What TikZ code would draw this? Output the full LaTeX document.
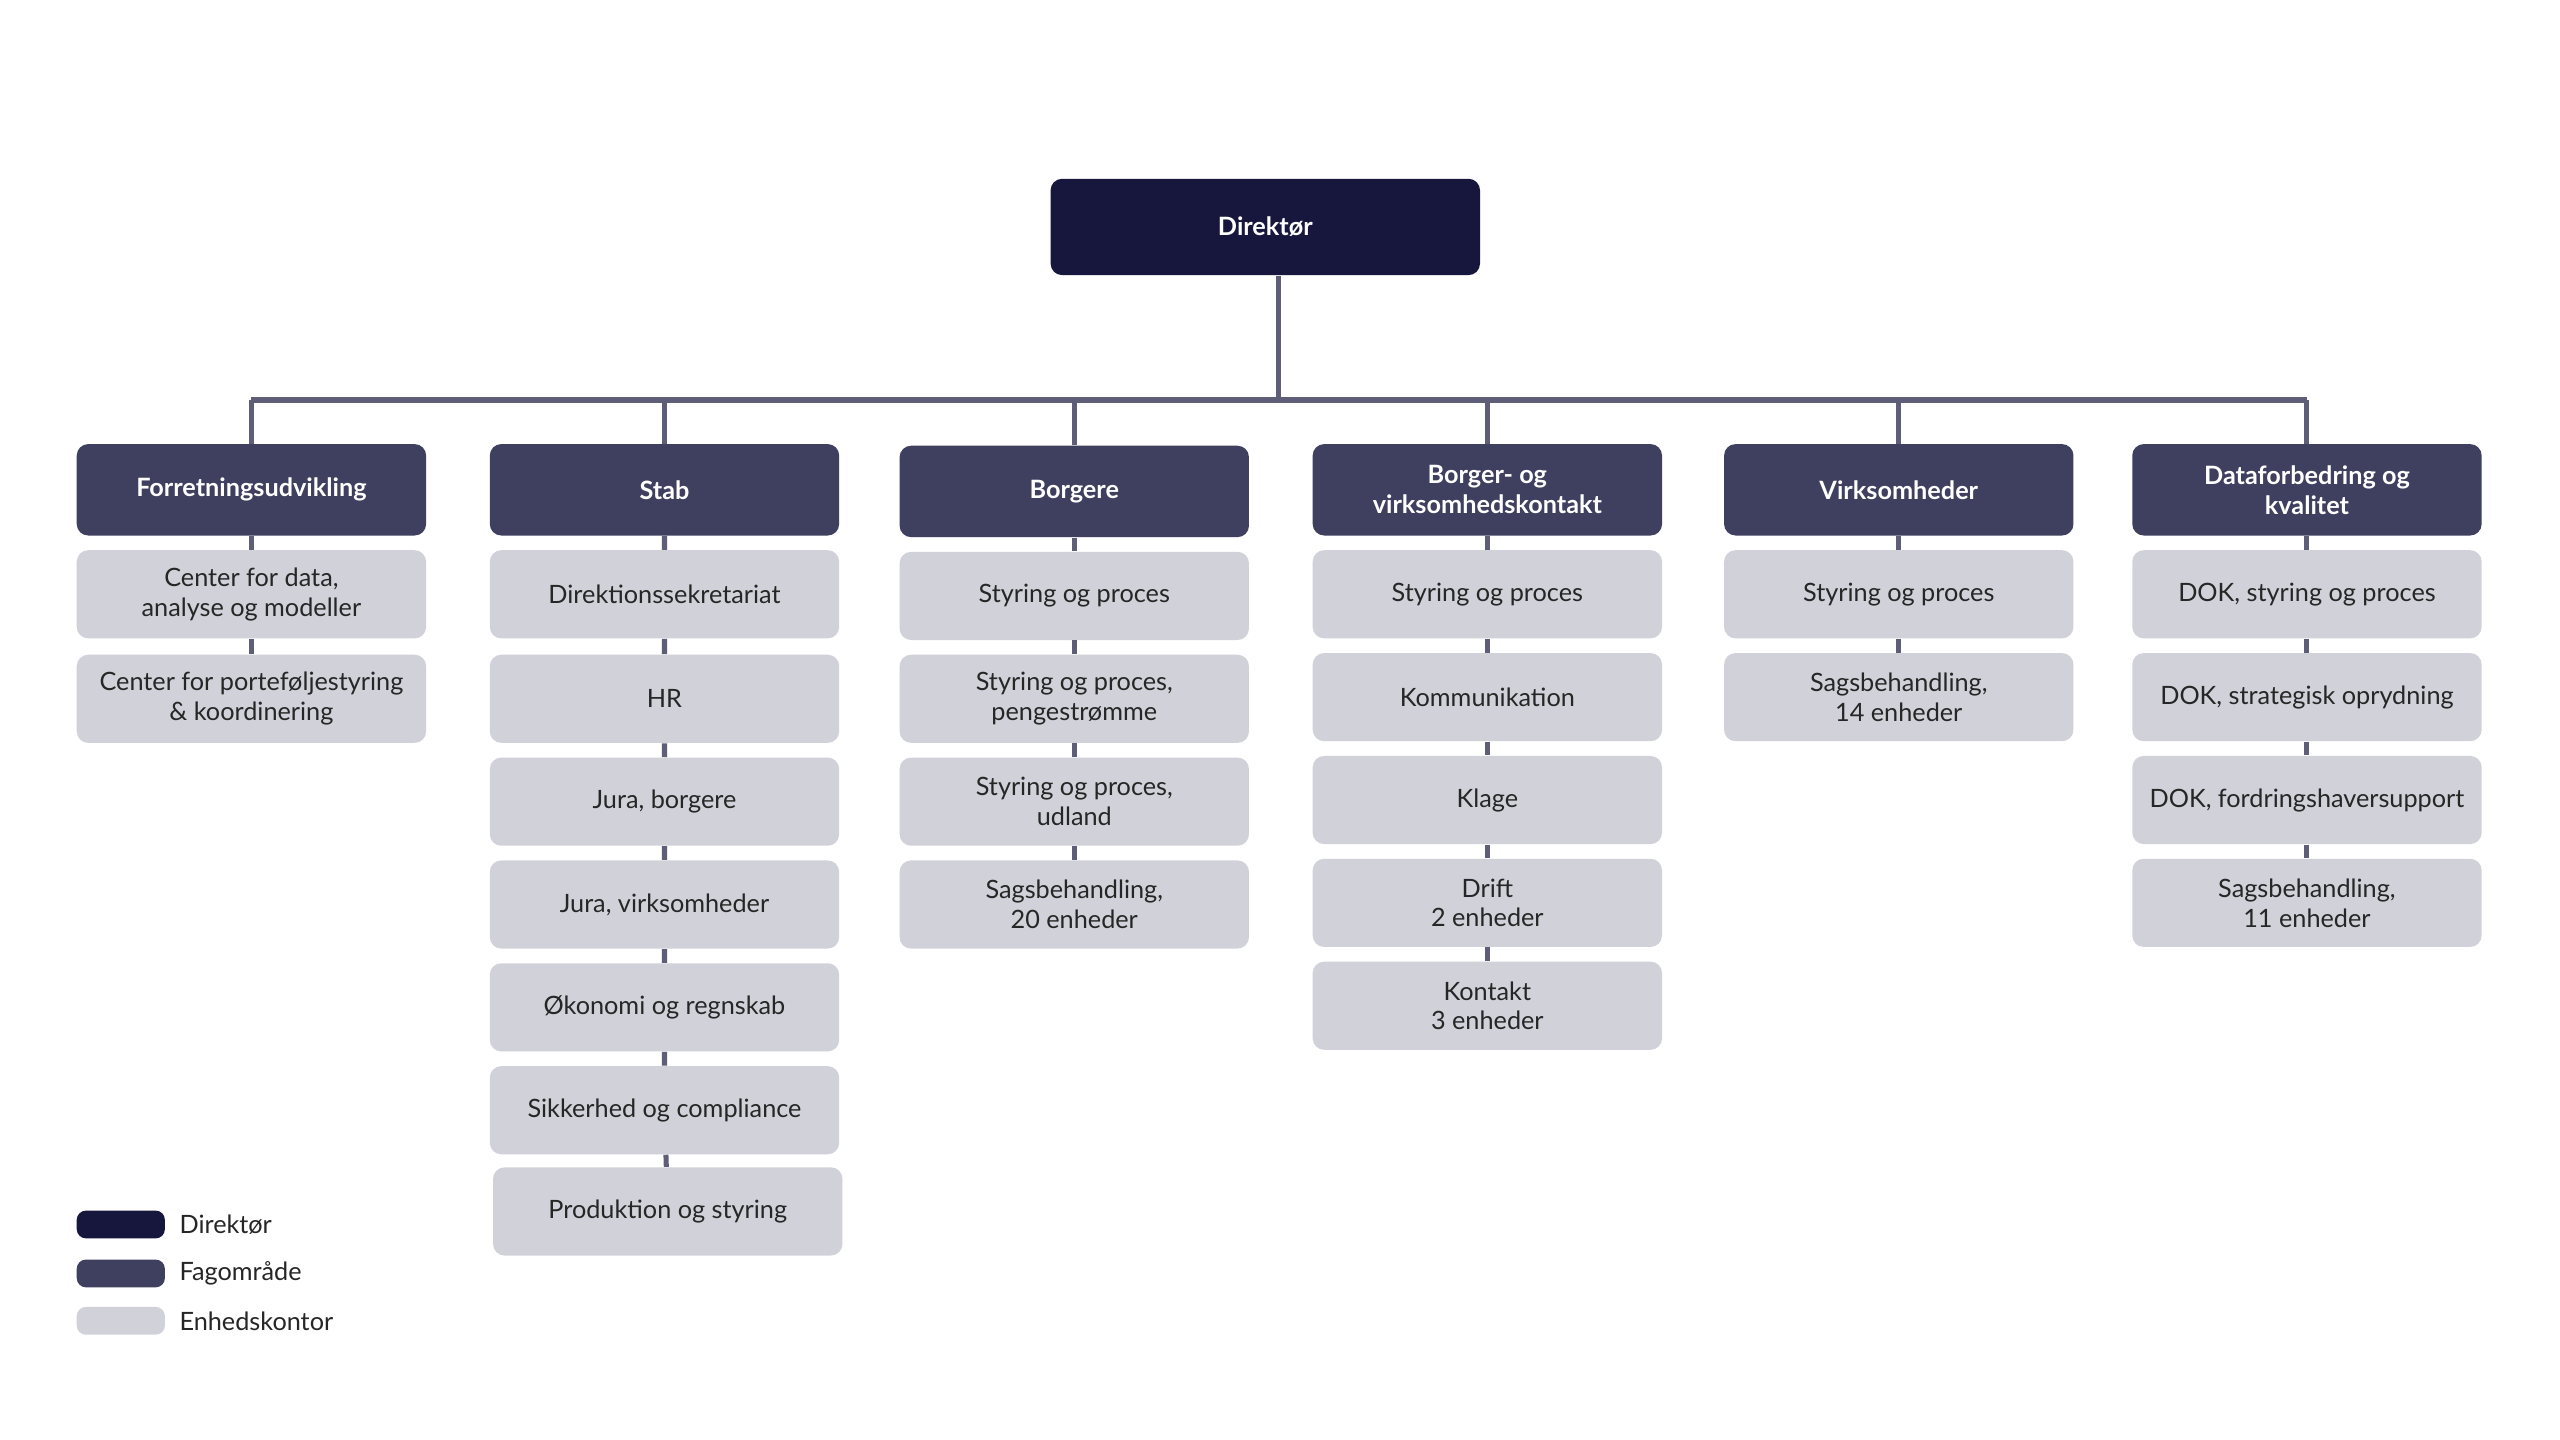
\documentclass[tikz,border=0pt]{standalone}
\usepackage{fontspec}
\setmainfont{Lato}
\begin{document}
\begin{tikzpicture}[x=0.025cm,y=-0.025cm,
  dir/.style={fill=cDir,rounded corners=5pt,minimum width=263*0.025cm,minimum height=59*0.025cm,text=white,font=\fontsize{11}{13}\selectfont\bfseries,align=center},
  fag/.style={fill=cFag,rounded corners=5pt,minimum width=214*0.025cm,minimum height=56*0.025cm,text=white,font=\fontsize{11}{13}\selectfont\bfseries,align=center},
  unit/.style={fill=cUnit,rounded corners=5pt,minimum width=214*0.025cm,minimum height=54*0.025cm,text=black!85,font=\fontsize{11}{13}\selectfont,align=center},
  con/.style={draw=cLine,line width=2.2pt},
  leg/.style={fill=#1,rounded corners=4pt,minimum width=54*0.025cm,minimum height=17*0.025cm,inner sep=0pt},
  legt/.style={anchor=west,font=\fontsize{11}{13}\selectfont,text=black!85}]
\definecolor{cDir}{HTML}{17173D}
\definecolor{cFag}{HTML}{3F3F5F}
\definecolor{cUnit}{HTML}{D1D1D9}
\definecolor{cLine}{HTML}{5E5E78}
\useasboundingbox (0,0) rectangle (1568,882);
\fill[white] (0,0) rectangle (1568,882);
\node[dir] (d) at (775,139) {Direktør};
\coordinate (dj) at (783,245);
\coordinate (dt) at (783,169);
% bus
\foreach \n/\x in {1/154,2/407,3/658,4/911,5/1163,6/1413}{\coordinate (b\n) at (\x,245);}
\draw[con] (b1) -- (b6);
\draw[con] (dt) -- (dj);
% fag
\node[fag] (f1) at (154,300) {Forretningsudvikling};
\node[fag] (f2) at (407,300) {Stab};
\node[fag] (f3) at (658,301) {Borgere};
\node[fag] (f4) at (911,300) {Borger- og\\virksomhedskontakt};
\node[fag] (f5) at (1163,300) {Virksomheder};
\node[fag] (f6) at (1413,300) {Dataforbedring og\\kvalitet};
\foreach \n in {1,...,6}{\draw[con] (b\n) -- (f\n.north);}
% column 1
\node[unit] (u11) at (154,364) {Center for data,\\analyse og modeller};
\node[unit] (u12) at (154,428) {Center for porteføljestyring\\\& koordinering};
\draw[con] (f1) -- (u11) (u11) -- (u12);
% column 2
\node[unit] (u21) at (407,364) {Direktionssekretariat};
\node[unit] (u22) at (407,428) {HR};
\node[unit] (u23) at (407,491) {Jura, borgere};
\node[unit] (u24) at (407,554) {Jura, virksomheder};
\node[unit] (u25) at (407,617) {Økonomi og regnskab};
\node[unit] (u26) at (407,680) {Sikkerhed og compliance};
\node[unit] (u27) at (409,742) {Produktion og styring};
\draw[con] (f2) -- (u21) (u21) -- (u22) (u22) -- (u23) (u23) -- (u24) (u24) -- (u25) (u25) -- (u26) (u26) -- (u27);
% column 3
\node[unit] (u31) at (658,365) {Styring og proces};
\node[unit] (u32) at (658,428) {Styring og proces,\\pengestrømme};
\node[unit] (u33) at (658,491) {Styring og proces,\\udland};
\node[unit] (u34) at (658,554) {Sagsbehandling,\\20 enheder};
\draw[con] (f3) -- (u31) (u31) -- (u32) (u32) -- (u33) (u33) -- (u34);
% column 4
\node[unit] (u41) at (911,364) {Styring og proces};
\node[unit] (u42) at (911,427) {Kommunikation};
\node[unit] (u43) at (911,490) {Klage};
\node[unit] (u44) at (911,553) {Drift\\2 enheder};
\node[unit] (u45) at (911,616) {Kontakt\\3 enheder};
\draw[con] (f4) -- (u41) (u41) -- (u42) (u42) -- (u43) (u43) -- (u44) (u44) -- (u45);
% column 5
\node[unit] (u51) at (1163,364) {Styring og proces};
\node[unit] (u52) at (1163,427) {Sagsbehandling,\\14 enheder};
\draw[con] (f5) -- (u51) (u51) -- (u52);
% column 6
\node[unit] (u61) at (1413,364) {DOK, styring og proces};
\node[unit] (u62) at (1413,427) {DOK, strategisk oprydning};
\node[unit] (u63) at (1413,490) {DOK, fordringshaversupport};
\node[unit] (u64) at (1413,553) {Sagsbehandling,\\11 enheder};
\draw[con] (f6) -- (u61) (u61) -- (u62) (u62) -- (u63) (u63) -- (u64);
% redraw boxes over connectors
\foreach \u in {u11,u12,u21,u22,u23,u24,u25,u26,u27,u31,u32,u33,u34,u41,u42,u43,u44,u45,u51,u52,u61,u62,u63,u64}{}
% legend
\node[leg=cDir] (l1) at (74,750) {};
\node[leg=cFag] (l2) at (74,780) {};
\node[leg=cUnit] (l3) at (74,809) {};
\node[legt] (lt1) at (105,750) {Direktør};
\node[legt] (lt2) at (105,780) {Fagområde};
\node[legt] (lt3) at (105,809) {Enhedskontor};
\end{tikzpicture}
\end{document}
